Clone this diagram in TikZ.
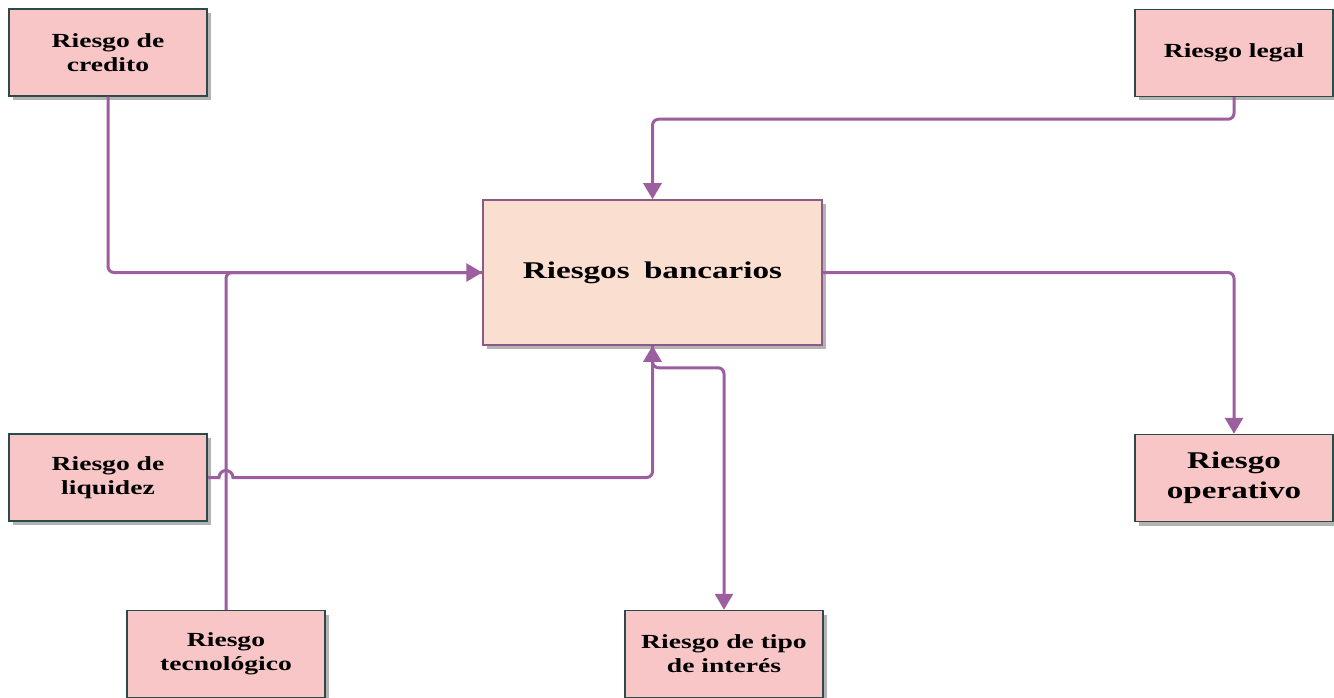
\documentclass[tikz,border=0pt]{standalone}
\usepackage{fontspec}
\setmainfont{Liberation Serif}[FakeStretch=1.38]
\usetikzlibrary{arrows.meta,shadows}
\definecolor{rosa}{HTML}{F8C6C7}
\definecolor{melon}{HTML}{FADFD0}
\definecolor{slate}{HTML}{2B4A4A}
\definecolor{violet}{HTML}{9C5E9E}
\definecolor{plum}{HTML}{8A5A8A}

\begin{document}
\begin{tikzpicture}[x=1pt,y=-1pt,font=\bfseries\fontsize{20}{24}\selectfont,
box/.style={draw=slate,line width=1.5pt,fill=rosa,align=center,minimum width=198pt,minimum height=87pt,
  drop shadow={shadow xshift=4pt,shadow yshift=-4pt,opacity=.6}},
core/.style={box,draw=plum,fill=melon,minimum width=339pt,minimum height=145pt,font=\bfseries\fontsize{24}{29}\selectfont},
arr/.style={-{Triangle[length=16pt,width=18pt]},draw=violet,line width=3pt,rounded corners=6pt}]
\useasboundingbox (0,0) rectangle (1334,698);
\node[box](cred) at (108,52.5){Riesgo de\\credito};
\node[box](legal) at (1234,53){Riesgo legal};
\node[core](banc) at (652.5,272.5){Riesgos\hspace{0.6em}bancarios};
\node[box](liq) at (108,477.5){Riesgo de\\liquidez};
\node[box,font=\bfseries\fontsize{24}{30}\selectfont](oper) at (1234,478){Riesgo\\operativo};
\node[box](tecn) at (226,654){Riesgo\\tecnológico};
\node[box](tipo) at (724,654){Riesgo de tipo\\de interés};
% connectors
\draw[arr,-](tecn.north)|-(banc.west);
\draw[arr](cred.south)|-(banc.west);
\draw[arr](legal.south)--++(0,22)-|(banc.north);
\draw[arr](banc.east)-|(oper.north);
\draw[arr](liq.east)[sharp corners]--([xshift=-7pt]tecn.north|-liq.east) arc(180:0:7pt)[rounded corners=6pt]-|(banc.south);
\draw[arr](banc.south)--++(0,22)-|(tipo.north);
\end{tikzpicture}
\end{document}
